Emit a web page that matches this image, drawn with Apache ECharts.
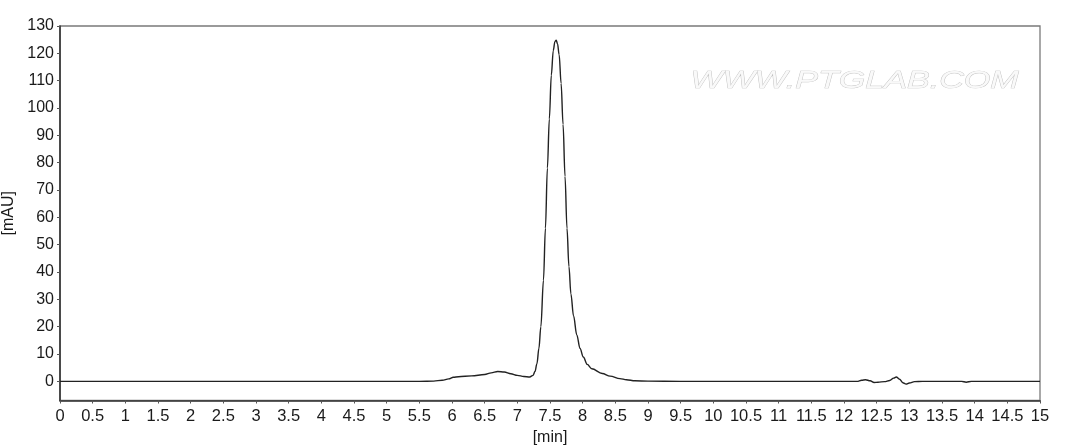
<!DOCTYPE html>
<html>
<head>
<meta charset="utf-8">
<script src="https://cdn.jsdelivr.net/npm/echarts@6/dist/echarts.min.js"></script>
<style>
html, body { margin: 0; padding: 0; background: #fff; }
#chart { width: 1072px; height: 445px; }
</style>
</head>
<body>
<div id="chart"></div>
<script>
// retention time [min]
var timeVals = [0, 5.5, 5.72, 5.85, 5.95, 6.02, 6.1, 6.3, 6.5, 6.6, 6.7, 6.8, 6.9, 7.0, 7.1, 7.19,
    7.24, 7.27, 7.30, 7.33, 7.36, 7.40, 7.43, 7.46, 7.49, 7.52, 7.55, 7.575, 7.595, 7.615, 7.64,
    7.67, 7.70, 7.73, 7.76, 7.79, 7.82, 7.86, 7.91, 7.96, 8.01, 8.07, 8.14, 8.3, 8.42, 8.57, 8.67, 8.8,
    9.0, 9.5, 12.2, 12.27, 12.33, 12.4, 12.46, 12.52, 12.62, 12.7, 12.76, 12.8, 12.85, 12.9,
    12.95, 13.0, 13.08, 13.2, 13.8, 13.87, 13.95, 15];
// absorbance [mAU]
var mauVals = [0, 0, 0.1, 0.4, 0.9, 1.5, 1.7, 2.0, 2.5, 3.1, 3.6, 3.4, 2.8, 2.2, 1.8, 1.6,
    2.2, 3.6, 6.5, 12, 20, 37, 56, 78, 96, 112, 121, 124.3, 124.8, 123.5, 119.5,
    109, 94, 75, 56, 42, 32, 24, 17, 12, 8.9, 6.2, 4.6, 2.9, 1.9, 1.0, 0.6, 0.2,
    0.1, 0, 0, 0.4, 0.6, 0.2, -0.4, -0.3, -0.1, 0.3, 1.2, 1.6, 0.8, -0.5,
    -1.0, -0.6, -0.1, 0, 0, -0.3, 0, 0];
var yTicks = [0, 10, 20, 30, 40, 50, 60, 70, 80, 90, 100, 110, 120, 130];
var watermark = 'WWW.PTGLAB.COM';

var points = [];
for (var i = 0; i < timeVals.length; i++) {
    points.push([timeVals[i], mauVals[i]]);
}

var chart = echarts.init(document.getElementById('chart'));
var font = 'Liberation Sans, Arial, sans-serif';

var option = {
    animation: false,
    backgroundColor: '#fff',
    grid: {
        left: 60, right: 32, top: 26, bottom: 44.5,
        outerBoundsMode: 'none',
        containLabel: false,
        show: true,
        borderColor: '#7a7a7a',
        borderWidth: 1.3
    },
    graphic: [{
        type: 'text',
        left: 690,
        top: 69,
        scaleX: 1.42,
        style: {
            text: watermark,
            font: 'italic 24px ' + font,
            fill: '#f9f9f9',
            stroke: '#c0c0c0',
            lineWidth: 0.7
        }
    }],
    xAxis: {
        type: 'value',
        min: 0,
        max: 15,
        interval: 0.5,
        name: '[min]',
        nameLocation: 'middle',
        nameGap: 24,
        nameTextStyle: { fontSize: 16, color: '#1a1a1a', fontFamily: font },
        splitLine: { show: false },
        axisLine: { onZero: false, lineStyle: { color: '#333', width: 1.6 } },
        axisTick: { length: 3, lineStyle: { color: '#555' } },
        axisLabel: { fontSize: 16.5, color: '#1a1a1a', fontFamily: font, margin: 7 }
    },
    yAxis: {
        type: 'value',
        min: -7,
        max: 130,
        name: '[mAU]',
        nameLocation: 'middle',
        nameGap: 40,
        nameTextStyle: { fontSize: 16, color: '#1a1a1a', fontFamily: font },
        splitLine: { show: false },
        axisLine: { show: true, onZero: false, lineStyle: { color: '#333', width: 1.6 } },
        axisTick: { show: true, length: 3, customValues: yTicks, lineStyle: { color: '#555' } },
        axisLabel: { fontSize: 16, color: '#1a1a1a', fontFamily: font, margin: 6, customValues: yTicks }
    },
    series: [{
        type: 'line',
        data: points,
        showSymbol: false,
        smooth: 0.35,
        smoothMonotone: 'x',
        lineStyle: { color: '#222', width: 1.4 }
    }]
};

chart.setOption(option);
</script>
</body>
</html>
